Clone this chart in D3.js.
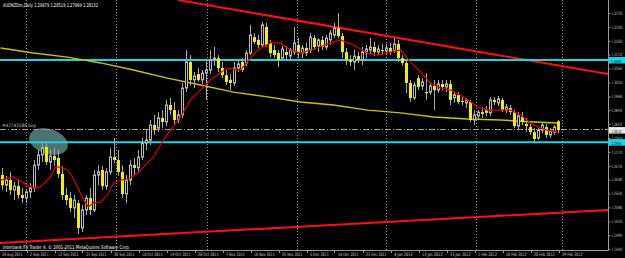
<!DOCTYPE html>
<html>
<head>
<meta charset="utf-8">
<title>AUDNZDm,Daily</title>
<script src="https://d3js.org/d3.v7.min.js"></script>
<style>
  body { margin: 0; background: #000; overflow: hidden; }
  svg { display: block; }
  text { font-family: "DejaVu Sans Condensed", "DejaVu Sans", sans-serif; }
</style>
</head>
<body>
<div id="chart"></div>
<script>
var chartTitle = "AUDNZDm,Daily  1.28479 1.28519 1.27999 1.28132";
var copyright = "Interbank FX Trader 4, \u00a9 2001-2011 MetaQuotes Software Corp.";
var orderText = "#47742186 buy";

// one label every 7 bars, last one on the last bar
var dateLabels = ["24 Aug 2011", "2 Sep 2011", "12 Sep 2011", "21 Sep 2011", "30 Sep 2011",
  "10 Oct 2011", "19 Oct 2011", "28 Oct 2011", "7 Nov 2011", "16 Nov 2011", "25 Nov 2011",
  "5 Dec 2011", "14 Dec 2011", "23 Dec 2011", "4 Jan 2012", "13 Jan 2012", "23 Jan 2012",
  "1 Feb 2012", "10 Feb 2012", "20 Feb 2012", "29 Feb 2012"];

var priceTicks = [1.32750, 1.32200, 1.31650, 1.31110, 1.30560, 1.30010, 1.29460, 1.28920,
  1.28370, 1.27820, 1.27270, 1.26720, 1.26180, 1.25630, 1.25080, 1.24530, 1.23990, 1.23440];

// daily bars: open, high, low, close
var candles = [
  [1.2636, 1.2664, 1.2577, 1.2596], [1.2596, 1.2632, 1.2569, 1.2616], [1.2616, 1.2648, 1.2557, 1.2577],
  [1.2577, 1.2608, 1.2537, 1.2592], [1.2592, 1.2616, 1.2541, 1.2557], [1.2557, 1.2585, 1.2525, 1.2545],
  [1.2545, 1.2577, 1.2525, 1.2569], [1.2569, 1.2604, 1.2545, 1.2585], [1.2585, 1.2695, 1.2569, 1.2675],
  [1.2675, 1.2735, 1.2656, 1.2715], [1.2715, 1.2762, 1.2687, 1.2743], [1.2747, 1.2766, 1.2675, 1.2687],
  [1.2687, 1.2735, 1.2656, 1.2711], [1.2711, 1.2743, 1.2671, 1.2695], [1.2703, 1.2735, 1.2624, 1.2640],
  [1.2640, 1.2671, 1.2537, 1.2557], [1.2557, 1.2585, 1.2518, 1.2537], [1.2545, 1.2569, 1.2490, 1.2506],
  [1.2506, 1.2557, 1.2466, 1.2537], [1.2525, 1.2537, 1.2403, 1.2427], [1.2427, 1.2518, 1.2411, 1.2498],
  [1.2498, 1.2557, 1.2478, 1.2545], [1.2545, 1.2585, 1.2478, 1.2498], [1.2498, 1.2656, 1.2490, 1.2636],
  [1.2636, 1.2675, 1.2596, 1.2648], [1.2656, 1.2671, 1.2577, 1.2592], [1.2592, 1.2664, 1.2577, 1.2648],
  [1.2648, 1.2743, 1.2636, 1.2707], [1.2707, 1.2782, 1.2683, 1.2695], [1.2695, 1.2735, 1.2632, 1.2648],
  [1.2648, 1.2675, 1.2545, 1.2561], [1.2561, 1.2636, 1.2525, 1.2616], [1.2616, 1.2695, 1.2596, 1.2675],
  [1.2675, 1.2703, 1.2636, 1.2664], [1.2664, 1.2735, 1.2648, 1.2707], [1.2707, 1.2782, 1.2695, 1.2762],
  [1.2762, 1.2813, 1.2735, 1.2774], [1.2774, 1.2853, 1.2754, 1.2833], [1.2833, 1.2873, 1.2794, 1.2813],
  [1.2821, 1.2884, 1.2805, 1.2861], [1.2861, 1.2892, 1.2821, 1.2845], [1.2845, 1.2932, 1.2829, 1.2912],
  [1.2912, 1.2940, 1.2873, 1.2892], [1.2892, 1.2924, 1.2833, 1.2853], [1.2853, 1.2892, 1.2841, 1.2873],
  [1.2873, 1.2999, 1.2861, 1.2979], [1.2979, 1.3129, 1.2963, 1.3082], [1.3082, 1.3109, 1.2991, 1.3011],
  [1.3011, 1.3042, 1.2979, 1.3026], [1.3034, 1.3058, 1.3003, 1.3011], [1.3011, 1.3050, 1.2995, 1.3038],
  [1.3038, 1.3090, 1.2932, 1.3050], [1.3050, 1.3129, 1.3034, 1.3090], [1.3090, 1.3141, 1.3066, 1.3097],
  [1.3097, 1.3109, 1.3042, 1.3058], [1.3058, 1.3082, 1.3018, 1.3030], [1.3030, 1.3050, 1.2991, 1.3003],
  [1.3011, 1.3034, 1.2971, 1.2999], [1.2999, 1.3082, 1.2987, 1.3058], [1.3058, 1.3090, 1.3042, 1.3074],
  [1.3082, 1.3097, 1.3042, 1.3050], [1.3078, 1.3129, 1.3066, 1.3117], [1.3117, 1.3228, 1.3109, 1.3188],
  [1.3180, 1.3196, 1.3153, 1.3161], [1.3169, 1.3188, 1.3137, 1.3149], [1.3149, 1.3240, 1.3141, 1.3228],
  [1.3220, 1.3236, 1.3141, 1.3149], [1.3157, 1.3169, 1.3101, 1.3117], [1.3129, 1.3149, 1.3097, 1.3109],
  [1.3117, 1.3129, 1.3062, 1.3090], [1.3097, 1.3145, 1.3090, 1.3133], [1.3121, 1.3145, 1.3090, 1.3109],
  [1.3105, 1.3137, 1.3090, 1.3129], [1.3121, 1.3220, 1.3109, 1.3157], [1.3149, 1.3176, 1.3097, 1.3117],
  [1.3117, 1.3149, 1.3097, 1.3137], [1.3137, 1.3157, 1.3105, 1.3117], [1.3129, 1.3196, 1.3117, 1.3180],
  [1.3176, 1.3188, 1.3129, 1.3141], [1.3145, 1.3176, 1.3121, 1.3169], [1.3169, 1.3184, 1.3129, 1.3141],
  [1.3141, 1.3188, 1.3129, 1.3176], [1.3169, 1.3208, 1.3149, 1.3196], [1.3188, 1.3236, 1.3176, 1.3216],
  [1.3216, 1.3275, 1.3176, 1.3184], [1.3184, 1.3196, 1.3097, 1.3121], [1.3121, 1.3137, 1.3070, 1.3090],
  [1.3090, 1.3109, 1.3066, 1.3082], [1.3082, 1.3129, 1.3050, 1.3105], [1.3105, 1.3121, 1.3078, 1.3090],
  [1.3090, 1.3141, 1.3070, 1.3121], [1.3121, 1.3149, 1.3097, 1.3133], [1.3129, 1.3176, 1.3113, 1.3141],
  [1.3141, 1.3161, 1.3105, 1.3121], [1.3121, 1.3149, 1.3109, 1.3133], [1.3129, 1.3153, 1.3113, 1.3125],
  [1.3125, 1.3153, 1.3113, 1.3137], [1.3137, 1.3157, 1.3109, 1.3121], [1.3125, 1.3176, 1.3117, 1.3153],
  [1.3153, 1.3169, 1.3082, 1.3097], [1.3097, 1.3109, 1.3066, 1.3078], [1.3078, 1.3090, 1.2959, 1.2999],
  [1.2999, 1.3011, 1.2924, 1.2940], [1.2940, 1.3003, 1.2932, 1.2991], [1.3018, 1.3030, 1.2971, 1.2983],
  [1.2987, 1.3018, 1.2971, 1.3003], [1.2963, 1.3038, 1.2932, 1.2959], [1.2963, 1.2999, 1.2952, 1.2987],
  [1.2987, 1.3011, 1.2892, 1.2971], [1.2971, 1.3011, 1.2959, 1.2995], [1.2995, 1.3011, 1.2971, 1.2983],
  [1.2983, 1.3011, 1.2963, 1.2995], [1.2995, 1.3011, 1.2912, 1.2932], [1.2940, 1.2963, 1.2920, 1.2952],
  [1.2952, 1.2963, 1.2916, 1.2924], [1.2928, 1.2944, 1.2912, 1.2924], [1.2920, 1.2940, 1.2900, 1.2932],
  [1.2924, 1.2932, 1.2845, 1.2853], [1.2853, 1.2892, 1.2833, 1.2873], [1.2869, 1.2892, 1.2853, 1.2884],
  [1.2884, 1.2904, 1.2861, 1.2877], [1.2892, 1.2908, 1.2869, 1.2881], [1.2881, 1.2944, 1.2869, 1.2932],
  [1.2932, 1.2944, 1.2912, 1.2924], [1.2920, 1.2948, 1.2908, 1.2936], [1.2932, 1.2940, 1.2884, 1.2892],
  [1.2892, 1.2916, 1.2881, 1.2904], [1.2900, 1.2912, 1.2873, 1.2884], [1.2884, 1.2892, 1.2821, 1.2829],
  [1.2829, 1.2884, 1.2813, 1.2869], [1.2865, 1.2884, 1.2833, 1.2845], [1.2837, 1.2861, 1.2805, 1.2829],
  [1.2825, 1.2837, 1.2794, 1.2805], [1.2805, 1.2821, 1.2762, 1.2778], [1.2782, 1.2821, 1.2774, 1.2813],
  [1.2813, 1.2845, 1.2801, 1.2833], [1.2825, 1.2837, 1.2782, 1.2794], [1.2794, 1.2821, 1.2782, 1.2809],
  [1.2805, 1.2833, 1.2794, 1.2825], [1.28479, 1.28519, 1.27999, 1.28132]
];

// red moving average, [bar, price]
var maFast = [[-0.5, 1.2616], [2.75, 1.2628], [6.25, 1.2596], [7.75, 1.2585], [9.5, 1.2589],
  [12, 1.2628], [13.25, 1.2667], [14.5, 1.2667], [16.25, 1.2656], [17.5, 1.2628], [18.75, 1.2589],
  [20.25, 1.2537], [21.5, 1.2510], [22.75, 1.2525], [24.5, 1.2529], [26.25, 1.2557], [27.75, 1.2604],
  [29.5, 1.2616], [32, 1.2624], [33.75, 1.2644], [35.25, 1.2667], [37.75, 1.2707], [40.25, 1.2774],
  [42, 1.2813], [44.5, 1.2865], [47, 1.2932], [49.5, 1.2971], [52, 1.3011], [54, 1.3034],
  [56.25, 1.3058], [59.5, 1.3050], [63.75, 1.3129], [67, 1.3157], [69.5, 1.3157], [72, 1.3129],
  [74.5, 1.3117], [78.75, 1.3137], [82, 1.3157], [84.5, 1.3169], [87.75, 1.3149], [91.25, 1.3117],
  [93.75, 1.3109], [97, 1.3121], [99.5, 1.3129], [102, 1.3082], [104.5, 1.3042], [107, 1.2999],
  [109.5, 1.2979], [112, 1.2971], [115.25, 1.2944], [118.75, 1.2904], [121.25, 1.2892], [124.5, 1.2892],
  [127, 1.2892], [129.5, 1.2873], [132, 1.2841], [134.5, 1.2821], [136.25, 1.2813], [139, 1.2805]];

// yellow moving average, [bar, price]
var maSlow = [[-0.5, 1.3137], [7.75, 1.3117], [16.25, 1.3101], [24.5, 1.3078], [32.75, 1.3050],
  [41.25, 1.3018], [49.5, 1.2991], [57.75, 1.2963], [66.25, 1.2944], [74.5, 1.2924], [82.75, 1.2912],
  [91.25, 1.2892], [99.5, 1.2881], [107.75, 1.2865], [116.25, 1.2857], [124.5, 1.2853],
  [132.75, 1.2845], [139, 1.2841]];

var trendUpper = [[43.9, 1.3326], [151.4, 1.3034]];
var trendLower = [[-0.7, 1.2368], [151.4, 1.2498]];
var levels = [1.30895, 1.27655];
var orderPrice = 1.2818;
var bidPrice = 1.28132;

var W = 625, H = 258, plotW = 608, plotH = 250;

function createCanvas() {
  var svg = d3.select("#chart").append("svg")
      .attr("width", W)
      .attr("height", H);
  svg.append("rect").attr("width", W).attr("height", H).attr("fill", "#000");
  svg.append("clipPath").attr("id", "plot")
    .append("rect").attr("width", plotW).attr("height", plotH);
  return svg;
}

var x = d3.scaleLinear().domain([0, 139]).range([2.5, 558.5]);
var y = d3.scaleLinear().domain([1.23440, 1.32750]).range([249, 13]);

function drawGrid(svg) {
  var gridX = [26, 116, 207, 297, 386, 476, 562];
  svg.append("g").selectAll("line").data(gridX).enter().append("line")
    .attr("x1", function(d) { return d + 0.5; })
    .attr("x2", function(d) { return d + 0.5; })
    .attr("y1", 0).attr("y2", plotH)
    .attr("stroke", "#9a9a9a").attr("stroke-width", 1)
    .attr("stroke-dasharray", "1,2");
}

function drawCandles(g) {
  g.append("path")
    .attr("d", d3.line()
      .x(function(d) { return x(d[0]); })
      .y(function(d) { return y(d[1]); })(maSlow))
    .attr("fill", "none").attr("stroke", "#c8c400").attr("stroke-width", 1.4);

  var c = g.append("g").selectAll("g").data(candles).enter().append("g");
  c.append("line")
    .attr("x1", function(d, i) { return x(i); })
    .attr("x2", function(d, i) { return x(i); })
    .attr("y1", function(d) { return y(d[1]); })
    .attr("y2", function(d) { return y(d[2]); })
    .attr("stroke", "#a8a8a8");
  c.append("rect")
    .attr("x", function(d, i) { return d[3] >= d[0] ? x(i) - 1 : x(i) - 1.5; })
    .attr("width", function(d) { return d[3] >= d[0] ? 2 : 3; })
    .attr("y", function(d) { return y(Math.max(d[0], d[3])); })
    .attr("height", function(d) { return Math.max(1, Math.abs(y(d[0]) - y(d[3]))); })
    .attr("fill", function(d) { return d[3] >= d[0] ? "#000" : "#f2f000"; })
    .attr("stroke", function(d) { return d[3] >= d[0] ? "#b8b8b8" : "none"; })
    .attr("stroke-width", 1);

  g.append("path")
    .attr("d", d3.line()
      .x(function(d) { return x(d[0]); })
      .y(function(d) { return y(d[1]); })(maFast))
    .attr("fill", "none").attr("stroke", "#e80000").attr("stroke-width", 1.2);
}

function drawObjects(g) {
  g.append("ellipse")
    .attr("cx", 48.5).attr("cy", 141.5).attr("rx", 20).attr("ry", 12.5)
    .attr("transform", "rotate(18,48.5,141.5)")
    .attr("fill", "#5f8f8d").attr("opacity", 0.8);

  [trendUpper, trendLower].forEach(function(t) {
    g.append("line")
      .attr("x1", x(t[0][0])).attr("y1", y(t[0][1]))
      .attr("x2", x(t[1][0])).attr("y2", y(t[1][1]))
      .attr("stroke", "#ff1010").attr("stroke-width", 2);
  });

  g.selectAll(".level").data(levels).enter().append("line")
    .attr("class", "level")
    .attr("x1", 0).attr("x2", plotW)
    .attr("y1", function(d) { return y(d); })
    .attr("y2", function(d) { return y(d); })
    .attr("stroke", "#18d4e4").attr("stroke-width", 2);

  g.append("line")
    .attr("x1", 0).attr("x2", plotW)
    .attr("y1", Math.round(y(orderPrice)) + 0.5).attr("y2", Math.round(y(orderPrice)) + 0.5)
    .attr("stroke", "#a0a0a0").attr("stroke-dasharray", "6,2,1,2");
  g.append("text").attr("x", 2).attr("y", y(orderPrice) - 2)
    .attr("font-size", 4.6).attr("fill", "#c8c8c8")
    .attr("textLength", 34).attr("lengthAdjust", "spacingAndGlyphs").text(orderText);
}

function drawAxes(svg) {
  svg.append("line").attr("x1", plotW + 0.5).attr("x2", plotW + 0.5)
    .attr("y1", 0).attr("y2", plotH + 0.5).attr("stroke", "#9a9a9a");
  svg.append("line").attr("x1", 0).attr("x2", plotW + 0.5)
    .attr("y1", plotH + 0.5).attr("y2", plotH + 0.5).attr("stroke", "#9a9a9a");

  // narrow axis font: squeeze horizontally so the labels fit in the right margin
  var squeeze = "scale(0.64,1)";

  var yAxis = d3.axisRight(y).tickValues(priceTicks).tickSize(2).tickPadding(1)
    .tickFormat(d3.format(".5f"));
  var ya = svg.append("g").attr("transform", "translate(" + (plotW + 0.5) + ",0)").call(yAxis);
  ya.select(".domain").remove();
  ya.selectAll("line").attr("stroke", "#9a9a9a");
  ya.selectAll("text").attr("fill", "#c8c8c8").attr("font-size", 4.5)
    .attr("font-family", "DejaVu Sans Condensed, DejaVu Sans, sans-serif")
    .attr("x", 0).attr("dy", "0.3em")
    .attr("transform", "translate(3,0) " + squeeze);

  var xa = svg.append("g");
  xa.selectAll("line").data(dateLabels).enter().append("line")
    .attr("x1", function(d, k) { return Math.round(x(k * 7 - 1)) + 0.5; })
    .attr("x2", function(d, k) { return Math.round(x(k * 7 - 1)) + 0.5; })
    .attr("y1", plotH).attr("y2", plotH + 3).attr("stroke", "#9a9a9a");
  xa.selectAll("text").data(dateLabels).enter().append("text")
    .attr("x", function(d, k) { return x(k * 7 - 1) + 3.5; })
    .attr("y", 256)
    .attr("font-size", 4.6).attr("fill", "#d0d0d0")
    .attr("textLength", function(d) { return d.length * 1.88; })
    .attr("lengthAdjust", "spacingAndGlyphs")
    .text(function(d) { return d; });

  // price labels of the horizontal lines
  var tags = levels.map(function(v) { return { v: v, bg: "#18d4e4", fg: "#000" }; });
  tags.push({ v: bidPrice, bg: "#e8e8e8", fg: "#000" });
  var tg = svg.append("g").selectAll("g").data(tags).enter().append("g")
    .attr("transform", function(d) { return "translate(" + (plotW + 1) + "," + y(d.v) + ")"; });
  tg.append("rect").attr("x", 0).attr("y", -3).attr("width", W - plotW).attr("height", 6.5)
    .attr("fill", function(d) { return d.bg; });
  tg.append("text").attr("x", 0).attr("y", 2.6).attr("font-size", 4.2)
    .attr("transform", "translate(2.5,0) " + squeeze)
    .attr("fill", function(d) { return d.fg; })
    .text(function(d) { return d.v.toFixed(5); });
}

function drawTexts(svg) {
  svg.append("text").attr("x", 3).attr("y", 7).attr("font-size", 5)
    .attr("fill", "#ffffff").attr("textLength", 95).attr("lengthAdjust", "spacingAndGlyphs")
    .text(chartTitle);
  svg.append("text").attr("x", 3).attr("y", 248.5).attr("font-size", 5)
    .attr("fill", "#ffffff").attr("textLength", 127).attr("lengthAdjust", "spacingAndGlyphs")
    .text(copyright);
}

function doD3() {
  var svg = createCanvas();
  drawGrid(svg);
  var g = svg.append("g").attr("clip-path", "url(#plot)");
  drawObjects(g);
  drawCandles(g);
  drawAxes(svg);
  drawTexts(svg);
}

doD3();
</script>
</body>
</html>
